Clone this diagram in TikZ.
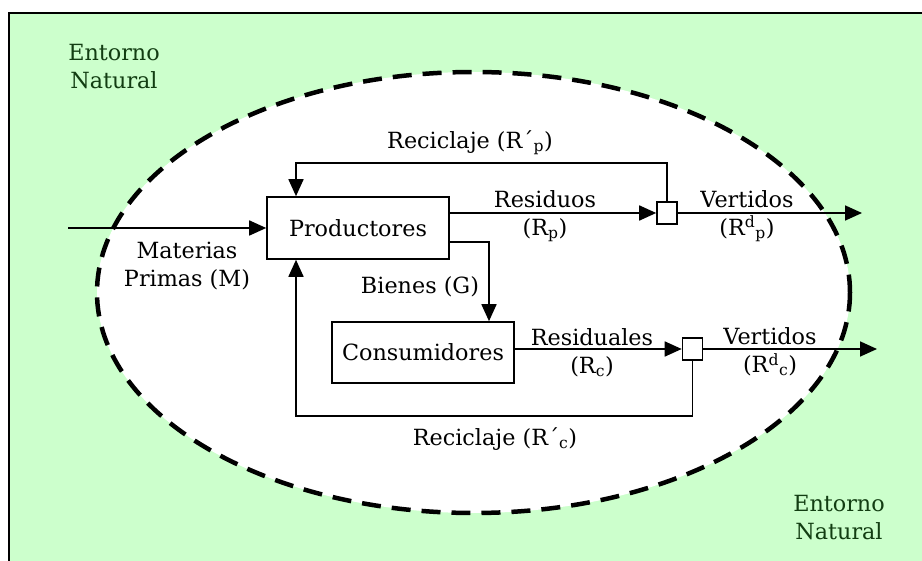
\documentclass[tikz,border=0pt]{standalone}
\usepackage{fontspec}
\setmainfont{DejaVu Serif}
\usetikzlibrary{arrows.meta}
\definecolor{envgreen}{HTML}{CCFFCC}
\definecolor{envtext}{HTML}{123D12}
\newcommand{\lowsub}[1]{\textsubscript{#1}}
\begin{document}
\begin{tikzpicture}[x=1pt,y=-1pt,
  every node/.style={font=\fontsize{22.3}{28}\selectfont},
  box/.style={draw,line width=1.6pt,minimum height=62pt,inner sep=0pt},
  junction/.style={draw,line width=1.6pt,minimum width=20pt,minimum height=22pt,inner sep=0pt,fill=white},
  flow/.style={line width=1.7pt,-{Triangle[length=17pt,width=15pt]}},
  lbl/.style={align=center,inner sep=0pt},
  envlbl/.style={align=center,inner sep=0pt,text=envtext}]
\useasboundingbox (0,0) rectangle (922,561);
% surrounding natural environment
\fill[envgreen] (9,13) rectangle (922,561);
\draw[line width=1.8pt] (9,561) -- (9,13) -- (922,13);
% system boundary
\draw[line width=4.5pt,dash pattern=on 19pt off 11pt,fill=white] (473.5,292.5) ellipse [x radius=376.5,y radius=220.5];

\node[envlbl] (env1) at (114,67) {Entorno\\Natural};
\node[envlbl] (env2) at (839,518) {Entorno\\Natural};

% process boxes
\node[box,minimum width=182pt] (prod) at (358,228) {Productores};
\node[box,minimum width=182pt,minimum height=61pt] (cons) at (423,352.5) {Consumidores};
\node[junction] (sq1) at (667,213) {};
\node[junction] (sq2) at (692.5,349) {};

\coordinate (in) at (68,228);
\coordinate (out1) at (862,213);
\coordinate (out2) at (877,349);
\coordinate (rtop) at (296,163);
\coordinate (rbot) at (296,416);
\coordinate (bturn) at (489,242);

% flows
\draw[flow] (in) -- (prod.west);
\draw[flow] (prod.east |- sq1.west) -- (sq1.west);
\draw[flow] (sq1.east) -- (out1);
\draw[flow] (sq1.north) |- (rtop) -- (rtop |- prod.north);
\draw[flow] (prod.east |- bturn) -- (bturn) -- (bturn |- cons.north);
\draw[flow] (cons.east |- sq2.west) -- (sq2.west);
\draw[flow] (sq2.east) -- (out2);
\draw[flow] (sq2.south) |- (rbot) -- (rbot |- prod.south);

% flow labels
\node[lbl] (lm) at (187,266) {Materias\\Primas (M)};
\node[lbl] (lrp) at (470,143) {Reciclaje (R´\lowsub{p})};
\node[lbl] (lres) at (545,216) {Residuos\\(R\lowsub{p})};
\node[lbl] (lv1) at (747,216) {Vertidos\\(R\textsuperscript{d}\lowsub{p})};
\node[lbl] (lb) at (420,287) {Bienes (G)};
\node[lbl] (lrc) at (592,353) {Residuales\\(R\lowsub{c})};
\node[lbl] (lv2) at (770,352) {Vertidos\\(R\textsuperscript{d}\lowsub{c})};
\node[lbl] (lrcc) at (495,439) {Reciclaje (R´\lowsub{c})};
\end{tikzpicture}
\end{document}
